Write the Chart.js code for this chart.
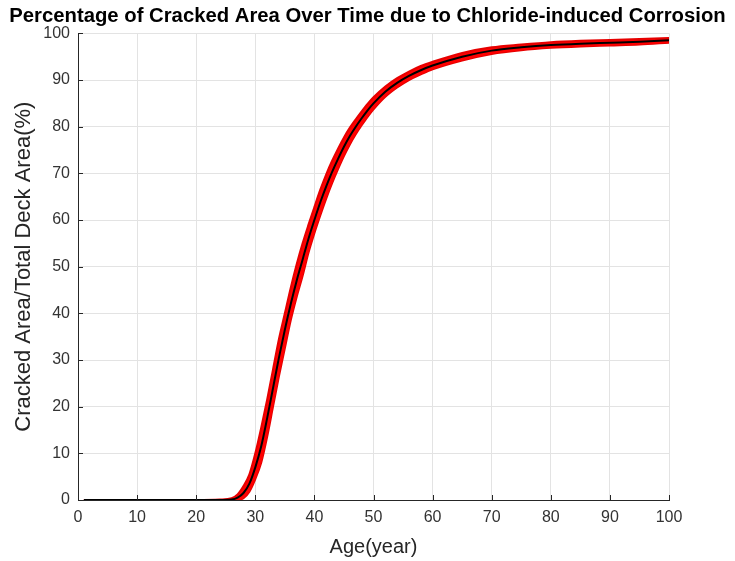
<!DOCTYPE html>
<html>
<head>
<meta charset="utf-8">
<title>Cracked Area Over Time</title>
<script src="https://cdn.jsdelivr.net/npm/chart.js@4.4.1/dist/chart.umd.min.js"></script>
<style>
    html, body { margin: 0; padding: 0; background: #fff; }
    #wrap { width: 735px; height: 561px; }
</style>
</head>
<body>
<div id="wrap"><canvas id="crackChart" width="735" height="561"></canvas></div>
<script>
// age in years
const ages = [1, 10, 20, 24, 26, 27, 28, 29, 30, 31, 32, 33, 34, 35, 36, 37, 38, 39, 40,
    41, 42, 43, 44, 45, 46, 47, 48, 49, 50, 52, 54, 56, 58, 60, 65, 70, 75, 80, 85, 90, 95, 100];

// mean cracked area (%), black line
const meanArea = [0, 0, 0, 0, 0.1, 0.5, 1.5, 3.5, 7, 11.5, 17.5, 24, 30.5, 36.5, 42, 47, 51.5, 56, 60,
    63.8, 67.2, 70.3, 73.1, 75.7, 78, 80, 81.8, 83.5, 85, 87.5, 89.4, 90.9, 92.1, 93.1,
    95, 96.3, 97, 97.5, 97.8, 98, 98.2, 98.5];

// upper / lower edge of the simulated runs (red band)
const upperArea = [0, 0, 0, 0.1, 0.4, 1.2, 3, 5.5, 10, 15.5, 21.5, 28, 34.5, 40, 45.5, 50.5, 55, 59, 62.8,
    66.5, 69.8, 72.7, 75.3, 77.7, 79.8, 81.6, 83.3, 84.9, 86.3, 88.6, 90.4, 91.8, 93, 93.9,
    95.8, 97, 97.6, 98.1, 98.4, 98.6, 98.8, 99];
const lowerArea = [0, 0, 0, 0, 0, 0, 0.4, 1.8, 4.5, 8, 13.5, 20, 26.5, 32.5, 38.5, 43.5, 48, 53, 57.2,
    61, 64.6, 67.9, 70.9, 73.7, 76.2, 78.4, 80.3, 82.1, 83.7, 86.4, 88.4, 90, 91.2, 92.3,
    94.2, 95.6, 96.4, 96.9, 97.2, 97.4, 97.6, 98];

const xTicks = [0, 10, 20, 30, 40, 50, 60, 70, 80, 90, 100];
const yTicks = [0, 10, 20, 30, 40, 50, 60, 70, 80, 90, 100];

const toPoints = (vals) => vals.map((v, i) => ({ x: ages[i], y: v }));

const axisColor = '#262626';
const gridColor = '#e3e3e3';
const fontName = 'Liberation Sans';

// MATLAB style tick marks pointing into the plot
const innerTicks = {
    id: 'innerTicks',
    afterDraw(chart) {
        const { ctx, chartArea, scales } = chart;
        ctx.save();
        ctx.strokeStyle = axisColor;
        ctx.lineWidth = 1;
        ctx.beginPath();
        xTicks.forEach(t => {
            const px = Math.round(scales.x.getPixelForValue(t)) + 0.5;
            ctx.moveTo(px, chartArea.bottom);
            ctx.lineTo(px, chartArea.bottom - 5);
        });
        yTicks.forEach(t => {
            const py = Math.round(scales.y.getPixelForValue(t)) + 0.5;
            ctx.moveTo(chartArea.left, py);
            ctx.lineTo(chartArea.left + 5, py);
        });
        ctx.stroke();
        ctx.restore();
    }
};

new Chart(document.getElementById('crackChart'), {
    type: 'line',
    data: {
        datasets: [{
            label: 'Mean',
            data: toPoints(meanArea),
            borderColor: '#000000',
            borderWidth: 2,
            pointRadius: 0,
            cubicInterpolationMode: 'monotone',
            fill: false,
            order: 0
        }, {
            label: 'Upper run',
            data: toPoints(upperArea),
            borderColor: '#e60000',
            borderWidth: 2,
            pointRadius: 0,
            cubicInterpolationMode: 'monotone',
            backgroundColor: '#ff0000',
            fill: '+1',
            order: 1
        }, {
            label: 'Lower run',
            data: toPoints(lowerArea),
            borderColor: '#e60000',
            borderWidth: 2,
            pointRadius: 0,
            cubicInterpolationMode: 'monotone',
            fill: false,
            order: 2
        }]
    },
    options: {
        responsive: false,
        animation: false,
        layout: { padding: 0 },
        plugins: {
            legend: { display: false },
            tooltip: { enabled: false },
            title: {
                display: true,
                text: 'Percentage of Cracked Area Over Time due to Chloride-induced Corrosion',
                color: '#000',
                font: { family: fontName, size: 20.3, weight: 'bold' },
                padding: { top: 4, bottom: 5 }
            }
        },
        scales: {
            x: {
                type: 'linear',
                min: 0,
                max: 100,
                afterBuildTicks: (scale) => { scale.ticks = xTicks.map(v => ({ value: v })); },
                afterFit: (scale) => { scale.height = 61; },
                grid: { color: gridColor, drawTicks: false },
                border: { display: true, color: axisColor, width: 1 },
                ticks: {
                    color: '#333',
                    padding: 8,
                    maxRotation: 0,
                    font: { family: fontName, size: 16 }
                },
                title: {
                    display: true,
                    text: 'Age(year)',
                    color: '#262626',
                    font: { family: fontName, size: 20 },
                    padding: { top: 0, bottom: 2 }
                }
            },
            y: {
                min: 0,
                max: 100,
                afterBuildTicks: (scale) => { scale.ticks = yTicks.map(v => ({ value: v })); },
                afterFit: (scale) => { scale.width = 78; },
                grid: { color: gridColor, drawTicks: false },
                border: { display: true, color: axisColor, width: 1 },
                ticks: {
                    color: '#333',
                    padding: 8,
                    font: { family: fontName, size: 16 }
                },
                title: {
                    display: true,
                    text: 'Cracked Area/Total Deck Area(%)',
                    color: '#262626',
                    font: { family: fontName, size: 22 },
                    padding: { top: 11, bottom: 0 }
                }
            },
            // empty axis that only reserves the right margin
            spacer: {
                type: 'linear',
                position: 'right',
                display: true,
                afterFit: (scale) => { scale.width = 66; },
                grid: { display: false, drawTicks: false },
                border: { display: false },
                ticks: { display: false }
            }
        }
    },
    plugins: [innerTicks]
});
</script>
</body>
</html>
